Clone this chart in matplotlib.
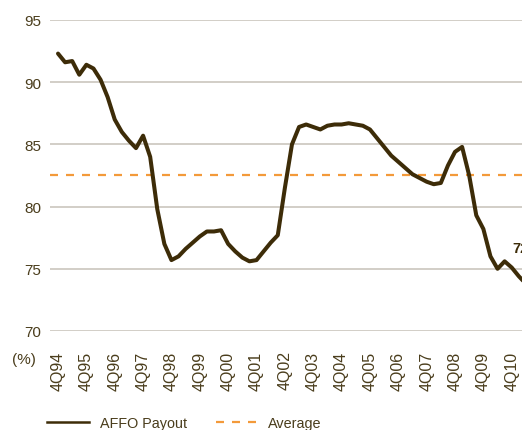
import matplotlib.pyplot as plt
from matplotlib.lines import Line2D

# quarterly AFFO payout (%), 4Q94 onwards
payout = [92.3, 91.6, 91.7, 90.6, 91.4, 91.1, 90.2, 88.8, 87.0, 86.0,
          85.3, 84.7, 85.7, 84.0, 79.8, 77.0, 75.7, 76.0, 76.6, 77.1,
          77.6, 78.0, 78.0, 78.1, 77.0, 76.4, 75.9, 75.6, 75.7, 76.4,
          77.1, 77.7, 81.5, 85.0, 86.4, 86.6, 86.4, 86.2, 86.5, 86.6,
          86.6, 86.7, 86.6, 86.5, 86.2, 85.5, 84.8, 84.1, 83.6, 83.1,
          82.6, 82.3, 82.0, 81.8, 81.9, 83.3, 84.4, 84.8, 82.5, 79.3,
          78.2, 76.0, 75.0, 75.6, 75.1, 74.4, 73.8]
average = 82.5
year_labels = ["4Q94", "4Q95", "4Q96", "4Q97", "4Q98", "4Q99", "4Q00", "4Q01",
               "4Q02", "4Q03", "4Q04", "4Q05", "4Q06", "4Q07", "4Q08", "4Q09", "4Q10"]
last_label = "72"

text_col = "#4a3d1c"
line_col = "#3d2c08"
avg_col = "#f39a3a"
grid_col = "#cbc6be"

plt.rcParams["font.family"] = ["Liberation Sans", "DejaVu Sans"]

fig = plt.figure(figsize=(5.22, 4.31), dpi=100)
ax = fig.add_axes([0.0958, 0.2297, 1 - 0.0958, 0.7216])

x = list(range(len(payout)))
ax.plot(x, payout, color=line_col, lw=2.9, solid_joinstyle="round",
        solid_capstyle="round", zorder=3)
ax.axhline(average, color=avg_col, lw=1.6, linestyle=(0, (3.6, 3.6)), zorder=2)
# end-of-series label, cut by the right edge as in the source
ax.text(64.1, 76.1, last_label, color=line_col, fontsize=10.5, fontweight="bold",
        ha="left", va="bottom")

ax.set_xlim(-1.13, 65.45)
ax.set_ylim(70, 95)
ax.set_yticks([70, 75, 80, 85, 90, 95])
ax.yaxis.grid(True, color=grid_col, lw=1.2)
ax.set_axisbelow(True)
ax.set_xticks(range(0, 4 * len(year_labels), 4))
ax.set_xticklabels(year_labels, rotation=90)
ax.tick_params(axis="both", length=0, colors=text_col)
ax.tick_params(axis="y", pad=6.5, labelsize=11)
ax.tick_params(axis="x", pad=14, labelsize=11.5)
for s in ax.spines.values():
    s.set_visible(False)

fig.text(0.023, 0.165, "(%)", color=text_col, fontsize=11, ha="left", va="center")

handles = [Line2D([], [], color=line_col, lw=1.8),
           Line2D([], [], color=avg_col, lw=1.6, linestyle=(0, (3.6, 3.6)))]
fig.legend(handles, ["AFFO Payout", "Average"], loc="center left",
           bbox_to_anchor=(0.09, 0.016), ncol=2, frameon=False, fontsize=10.4,
           handlelength=2.9, handletextpad=0.75, columnspacing=2.0,
           labelcolor=text_col, borderpad=0, borderaxespad=0)

fig.savefig("out.png", dpi=100)
